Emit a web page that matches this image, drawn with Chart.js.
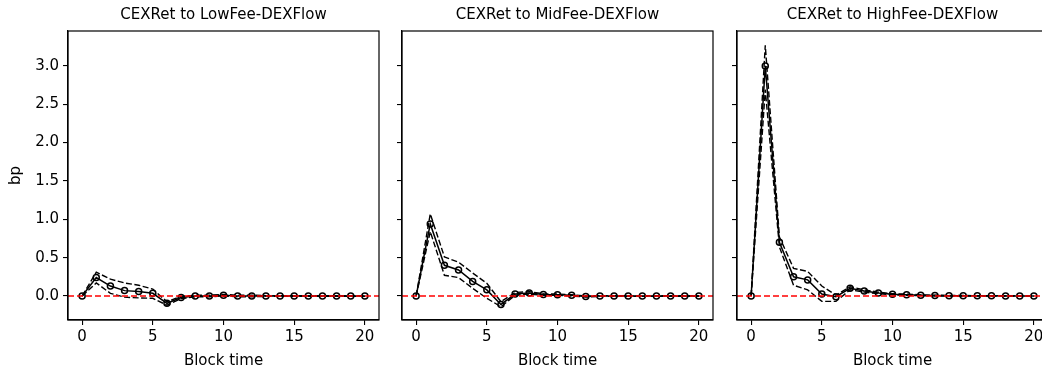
<!DOCTYPE html>
<html>
<head>
<meta charset="utf-8">
<script src="https://cdn.jsdelivr.net/npm/chart.js@4.4.1/dist/chart.umd.min.js"></script>
<style>
  html, body { margin: 0; padding: 0; background: #fff; overflow: hidden; }
  #wrap { position: relative; width: 1042px; height: 372px; }
  canvas { position: absolute; top: 0; }
</style>
</head>
<body>
<div id="wrap">
  <canvas id="chartLow" width="390" height="372" style="left:0px"></canvas>
  <canvas id="chartMid" width="335" height="372" style="left:390px"></canvas>
  <canvas id="chartHigh" width="340" height="372" style="left:725px"></canvas>
</div>
<script>
'use strict';

//********************* Data *************************/

let blockTime = [0, 1, 2, 3, 4, 5, 6, 7, 8, 9, 10, 11, 12, 13, 14, 15, 16, 17, 18, 19, 20];
let xTicks = [0, 5, 10, 15, 20];
let yTicks = [0, 0.5, 1.0, 1.5, 2.0, 2.5, 3.0];

let panelTitles = ['CEXRet to LowFee-DEXFlow', 'CEXRet to MidFee-DEXFlow', 'CEXRet to HighFee-DEXFlow'];

let lowMean = [0, 0.24, 0.13, 0.07, 0.06, 0.035, -0.095, -0.02, 0, 0, 0.01, 0, 0, 0, 0, 0, 0, 0, 0, 0, 0];
let lowUpper = [0, 0.31, 0.22, 0.17, 0.14, 0.09, -0.075, -0.005, 0.01, 0.01, 0.02, 0.01, 0.01, 0.005, 0.005, 0.005, 0.005, 0.005, 0.005, 0.005, 0.005];
let lowLower = [0, 0.17, 0.035, -0.015, -0.025, -0.03, -0.12, -0.035, -0.01, -0.01, 0, -0.01, -0.01, -0.005, -0.005, -0.005, -0.005, -0.005, -0.005, -0.005, -0.005];

let midMean = [0, 0.94, 0.40, 0.34, 0.19, 0.08, -0.11, 0.025, 0.04, 0.02, 0.017, 0.01, -0.008, 0, 0, 0, 0, 0, 0, 0, 0];
let midUpper = [0, 1.07, 0.51, 0.44, 0.30, 0.165, -0.075, 0.045, 0.057, 0.03, 0.025, 0.017, 0, 0.005, 0.005, 0.005, 0.005, 0.005, 0.005, 0.005, 0.005];
let midLower = [0, 0.84, 0.27, 0.24, 0.10, -0.03, -0.14, 0.01, 0.025, 0.01, 0.008, 0, -0.015, -0.005, -0.005, -0.005, -0.005, -0.005, -0.005, -0.005, -0.005];

let highMean = [0, 3.0, 0.70, 0.25, 0.21, 0.025, -0.01, 0.10, 0.065, 0.04, 0.022, 0.017, 0.009, 0.005, 0.004, 0.003, 0.002, 0.002, 0.001, 0.001, 0.001];
let highUpper = [0, 3.27, 0.77, 0.36, 0.32, 0.13, 0.01, 0.12, 0.08, 0.05, 0.03, 0.025, 0.015, 0.01, 0.008, 0.006, 0.005, 0.005, 0.004, 0.004, 0.004];
let highLower = [0, 2.69, 0.64, 0.14, 0.08, -0.07, -0.07, 0.08, 0.05, 0.03, 0.015, 0.01, 0.004, 0, 0, 0, -0.001, -0.001, -0.002, -0.002, -0.002];

//********************** Helpers ****************************/

const FONT = 'DejaVu Sans';
const FONT_SIZE = 15;
Chart.defaults.font.family = FONT;
Chart.defaults.font.size = FONT_SIZE;
Chart.defaults.color = '#000';

function toPoints(values){
  return values.map((v, i) => ({ x: blockTime[i], y: v }));
}

// matplotlib style box round the plot area, plus title centred on the plot
let frameBox = {
  id: 'frameBox',
  afterDatasetsDraw(chart, args, opts){
    let a = chart.chartArea;
    let c = chart.ctx;
    c.save();
    c.strokeStyle = '#000';
    c.lineWidth = 1.2;
    c.strokeRect(a.left, a.top, a.right - a.left, a.bottom - a.top);
    c.fillStyle = '#000';
    c.font = FONT_SIZE + 'px "' + FONT + '"';
    c.textAlign = 'center';
    c.textBaseline = 'middle';
    c.fillText(opts.text, (a.left + a.right) / 2, 15);
    c.restore();
  }
};

function makePanel(canvasId, title, mean, upper, lower, axisWidth, rightPad, showYLabels){
  let ctx = document.getElementById(canvasId).getContext('2d');

  return new Chart(ctx, {
    type: 'line',
    data: {
      datasets: [
        {
          data: [{ x: -1, y: 0 }, { x: 21, y: 0 }],
          borderColor: '#ff0000',
          borderWidth: 1.5,
          borderDash: [6, 3],
          pointRadius: 0
        },
        {
          data: toPoints(mean),
          borderColor: '#000',
          borderWidth: 1.5,
          pointRadius: 3,
          pointBorderWidth: 1.5,
          pointBorderColor: '#000',
          pointBackgroundColor: 'rgba(0,0,0,0)'
        },
        {
          data: toPoints(upper),
          borderColor: '#000',
          borderWidth: 1.4,
          borderDash: [6, 2.5],
          pointRadius: 0
        },
        {
          data: toPoints(lower),
          borderColor: '#000',
          borderWidth: 1.4,
          borderDash: [6, 2.5],
          pointRadius: 0
        }
      ]
    },
    options: {
      responsive: false,
      animation: false,
      layout: { padding: { right: rightPad, top: 31, bottom: 0, left: 0 } },
      plugins: {
        legend: { display: false },
        tooltip: { enabled: false },
        title: { display: false },
        frameBox: { text: title }
      },
      scales: {
        x: {
          type: 'linear',
          min: -1,
          max: 21,
          afterBuildTicks: (scale) => { scale.ticks = xTicks.map(v => ({ value: v })); },
          afterFit: (scale) => { scale.height = 52; },
          grid: { drawOnChartArea: false, drawTicks: true, tickLength: 5, color: '#000', lineWidth: 1.1 },
          border: { display: true, color: '#000', width: 1.2 },
          ticks: { color: '#000', padding: 3, maxRotation: 0, callback: (v) => String(v) },
          title: { display: true, text: 'Block time', color: '#000', font: { size: FONT_SIZE }, padding: { top: 0, bottom: 2 } }
        },
        y: {
          type: 'linear',
          min: -0.313,
          max: 3.455,
          afterBuildTicks: (scale) => { scale.ticks = yTicks.map(v => ({ value: v })); },
          afterFit: (scale) => { scale.width = axisWidth; },
          grid: { drawOnChartArea: false, drawTicks: true, tickLength: 5, color: '#000', lineWidth: 1.1 },
          border: { display: true, color: '#000', width: 1.2 },
          ticks: {
            color: showYLabels ? '#000' : 'rgba(0,0,0,0)',
            padding: 4,
            callback: (v) => v.toFixed(1)
          },
          title: { display: showYLabels, text: 'bp', color: '#000', font: { size: FONT_SIZE }, padding: { top: 7, bottom: 0 } }
        }
      }
    },
    plugins: [frameBox]
  });
}

//********************** Charts ****************************/

makePanel('chartLow', panelTitles[0], lowMean, lowUpper, lowLower, 68, 11, true);
makePanel('chartMid', panelTitles[1], midMean, midUpper, midLower, 12, 12, false);
makePanel('chartHigh', panelTitles[2], highMean, highUpper, highLower, 12, 17, false);
</script>
</body>
</html>
